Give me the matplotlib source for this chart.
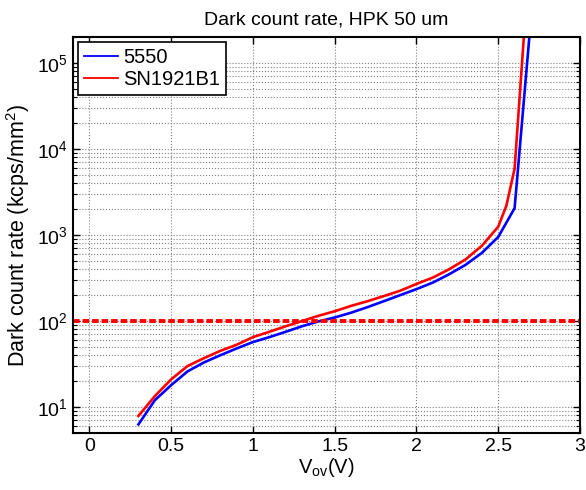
import numpy as np
import matplotlib
matplotlib.use('Agg')
import matplotlib.pyplot as plt
from matplotlib.ticker import LogLocator, NullFormatter

plt.rcParams['font.family'] = ['Liberation Sans', 'DejaVu Sans']

# overvoltage (V)
vov = [0.3, 0.4, 0.5, 0.6, 0.7, 0.8, 0.9, 1.0, 1.1, 1.2, 1.3, 1.4, 1.5,
       1.6, 1.7, 1.8, 1.9, 2.0, 2.1, 2.2, 2.3, 2.4, 2.5, 2.6, 2.7]

# dark count rate (kcps/mm^2)
dcr_5550 = [6.3, 12, 18, 26, 33, 40, 48, 57, 65, 75, 87, 99, 110,
            125, 145, 170, 200, 235, 280, 350, 450, 620, 950, 2050, 330000]
vov_sn = [0.3, 0.4, 0.5, 0.6, 0.7, 0.8, 0.9, 1.0, 1.1, 1.2, 1.3, 1.4, 1.5,
          1.6, 1.7, 1.8, 1.9, 2.0, 2.1, 2.2, 2.3, 2.4, 2.5, 2.55, 2.6, 2.7]
dcr_sn = [7.9, 13.4, 21, 30, 37, 45, 53, 65, 75, 87, 100, 115, 130,
          150, 170, 195, 225, 270, 320, 400, 520, 750, 1250, 2200, 5900, 3000000]

threshold = 100

fig = plt.figure(figsize=(5.86, 4.9), dpi=100)
ax = fig.add_axes([0.1246, 0.1163, 0.8652, 0.8082])

ax.plot(vov, dcr_5550, color='#0000ff', lw=1.9, label='5550')
ax.plot(vov_sn, dcr_sn, color='#ff0000', lw=1.9, label='SN1921B1')
ax.axhline(threshold, color='#ff0000', lw=2.8, linestyle=(0, (1.7, 0.75)))

ax.set_yscale('log')
ax.set_xlim(-0.1, 3)
ax.set_ylim(5, 2e5)
ax.set_xticks([0, 0.5, 1, 1.5, 2, 2.5, 3])
ax.set_xticklabels(['0', '0.5', '1', '1.5', '2', '2.5', '3'])
ax.yaxis.set_major_locator(LogLocator(base=10, numticks=10))
ax.yaxis.set_minor_locator(LogLocator(base=10, subs=np.arange(2, 10), numticks=10))
ax.yaxis.set_minor_formatter(NullFormatter())

ax.grid(True, which='major', axis='both', color='#808080', linestyle=':', lw=0.8)
ax.grid(True, which='minor', axis='y', color='#808080', linestyle=':', lw=0.8)

ax.tick_params(which='both', direction='in', top=True, right=True, labelsize=14)
ax.tick_params(which='major', length=5, width=1)
ax.tick_params(which='minor', length=3, width=0.8)
for s in ax.spines.values():
    s.set_linewidth(1.5)

ax.set_title('Dark count rate, HPK 50 um', fontsize=14, pad=9)
ax.set_xlabel('V$_{\\mathregular{ov}}$(V)', fontsize=14.5, labelpad=1)
ax.set_ylabel('Dark count rate (kcps/mm$^{\\mathregular{2}}$)', fontsize=15.5, labelpad=4)

leg = ax.legend(loc='upper left', fontsize=14.5, fancybox=False, framealpha=1,
                edgecolor='black', borderaxespad=0.25, handlelength=1.7,
                handletextpad=0.25, borderpad=0.3, labelspacing=0.15)
leg.get_frame().set_linewidth(1.2)
for ln in leg.get_lines():
    ln.set_linewidth(1.3)

fig.savefig('out.png', dpi=100)
